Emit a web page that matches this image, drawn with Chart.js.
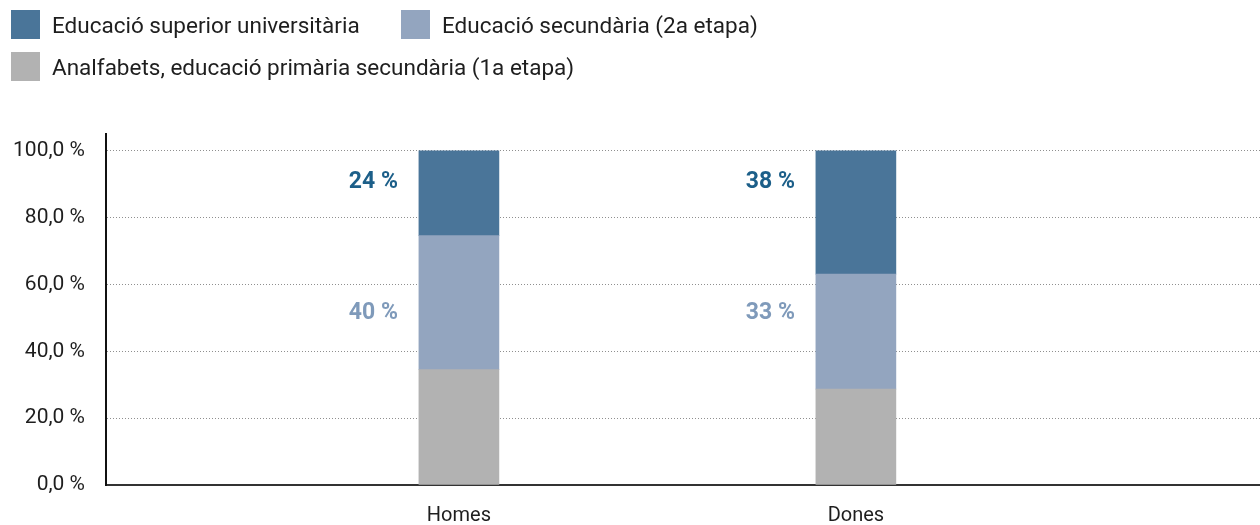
<!DOCTYPE html>
<html>
<head>
<meta charset="utf-8">
<script src="https://cdn.jsdelivr.net/npm/chart.js@4.4.1/dist/chart.umd.min.js"></script>
<style>
  html, body { margin: 0; padding: 0; background: #fff; }
  #wrap { position: relative; width: 1260px; height: 525px; }
  #legend { position: absolute; left: 0; top: 0; font-family: Roboto, sans-serif; font-size: 22.5px; color: #1e1e1e; }
  .item { position: absolute; display: flex; align-items: center; white-space: nowrap; height: 29px; }
  .box { width: 29px; height: 29px; margin-right: 12px; flex: none; }
  canvas { position: absolute; left: 0; top: 0; }
</style>
</head>
<body>
<div id="wrap">
  <canvas id="chart" width="1260" height="525"></canvas>
  <div id="legend"></div>
</div>
<script>
  // data
  const categories = ['Homes', 'Dones'];
  const analfabets = [34.5, 28.7];
  const secundaria = [40.1, 34.4];
  const universitaria = [25.4, 36.9];
  const secundariaLabels = ['40 %', '33 %'];
  const universitariaLabels = ['24 %', '38 %'];
  const yTicks = [0, 20, 40, 60, 80, 100];

  const C_UNI = '#4a7599', C_SEC = '#93a5bf', C_ANA = '#b2b2b2';
  const FONT = 'Roboto, sans-serif';

  // legend (html so it wraps like the original)
  const legendItems = [
    { text: 'Educació superior universitària', color: C_UNI, left: 11, top: 10 },
    { text: 'Educació secundària (2a etapa)', color: C_SEC, left: 401, top: 10 },
    { text: 'Analfabets, educació primària secundària (1a etapa)', color: C_ANA, left: 11, top: 52 }
  ];
  const legendEl = document.getElementById('legend');
  legendItems.forEach(it => {
    const d = document.createElement('div');
    d.className = 'item';
    d.style.left = it.left + 'px';
    d.style.top = it.top + 'px';
    d.innerHTML = '<span class="box" style="background:' + it.color + '"></span><span>' + it.text + '</span>';
    legendEl.appendChild(d);
  });

  const toPoints = arr => arr.map((v, i) => ({ x: i + 1, y: v }));

  const sideLabels = {
    id: 'sideLabels',
    afterDatasetsDraw(chart) {
      const ctx = chart.ctx;
      const y = chart.scales.y;
      const bars = chart.getDatasetMeta(2).data;
      ctx.save();
      ctx.font = 'bold 23px ' + FONT;
      ctx.textAlign = 'right';
      ctx.textBaseline = 'middle';
      bars.forEach((bar, i) => {
        const xr = bar.x - bar.width / 2 - 21;
        ctx.fillStyle = '#1c5f89';
        ctx.fillText(universitariaLabels[i], xr, y.getPixelForValue(90.7));
        ctx.fillStyle = '#7f9aba';
        ctx.fillText(secundariaLabels[i], xr, y.getPixelForValue(51.5));
      });
      ctx.restore();
    }
  };

  new Chart(document.getElementById('chart'), {
    type: 'bar',
    data: {
      datasets: [
        { label: 'Analfabets, educació primària secundària (1a etapa)', data: toPoints(analfabets), backgroundColor: C_ANA, barThickness: 80 },
        { label: 'Educació secundària (2a etapa)', data: toPoints(secundaria), backgroundColor: C_SEC, barThickness: 80 },
        { label: 'Educació superior universitària', data: toPoints(universitaria), backgroundColor: C_UNI, barThickness: 80 }
      ]
    },
    options: {
      responsive: false,
      animation: false,
      layout: { padding: { top: 134, right: 0, bottom: 0, left: 0 } },
      plugins: { legend: { display: false }, tooltip: { enabled: false } },
      scales: {
        x: {
          type: 'linear',
          stacked: true,
          offset: false,
          min: 0.111,
          max: 3.018,
          grid: { display: false, offset: false },
          border: { display: true, color: '#333', width: 2 },
          afterBuildTicks: s => { s.ticks = categories.map((c, i) => ({ value: i + 1 })); },
          afterFit: s => { s.height = 40; },
          ticks: {
            padding: 11,
            color: '#1e1e1e',
            font: { family: FONT, size: 20 },
            callback: v => categories[v - 1] || ''
          }
        },
        y: {
          stacked: true,
          min: 0,
          max: 105,
          afterBuildTicks: s => { s.ticks = yTicks.map(v => ({ value: v })); },
          afterFit: s => { s.width = 106; },
          grid: { color: '#8f8f8f', drawTicks: false, lineWidth: 1 },
          border: { display: true, color: '#111', width: 2, dash: [1, 2] },
          ticks: {
            padding: 21,
            color: '#1e1e1e',
            font: { family: FONT, size: 21 },
            callback: v => v.toFixed(1).replace('.', ',') + ' %'
          }
        }
      }
    },
    plugins: [sideLabels]
  });
</script>
</body>
</html>
